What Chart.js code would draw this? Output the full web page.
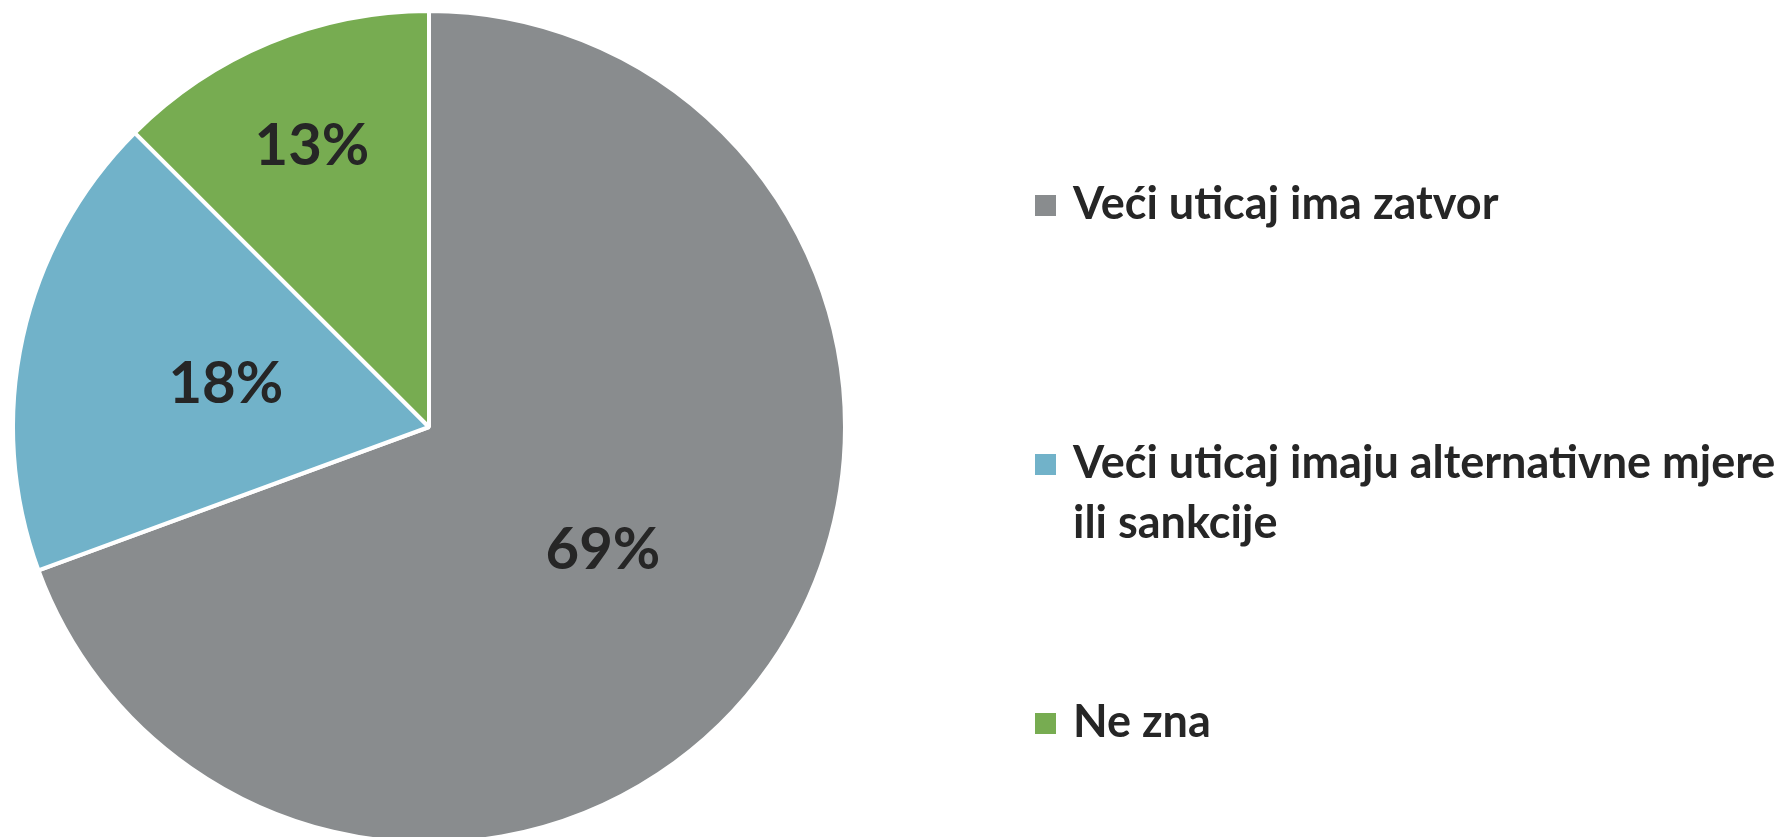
<!DOCTYPE html>
<html>
<head>
<meta charset="utf-8">
<script src="https://cdn.jsdelivr.net/npm/chart.js"></script>
<style>
  html, body { margin: 0; padding: 0; background: #fff; overflow: hidden; }
  #wrap { position: absolute; left: 0; top: 0; width: 1790px; height: 854px; }
</style>
</head>
<body>
<div id="wrap"><canvas id="pieChart" width="1790" height="854"></canvas></div>
<script>
// Data
const labels = ['Veći uticaj ima zatvor', 'Veći uticaj imaju alternativne mjere\nili sankcije', 'Ne zna'];
const shares = [69.4, 18.1, 12.5];
const colors = ['#898c8e', '#71b2c9', '#77ac51'];

const textColor = '#262626';
const fontFamily = 'Lato, "Open Sans", sans-serif';

// percent labels inside the slices
const sliceLabels = {
  id: 'sliceLabels',
  afterDatasetsDraw(chart, args, opts) {
    const ctx = chart.ctx;
    const meta = chart.getDatasetMeta(0);
    ctx.save();
    ctx.fillStyle = textColor;
    ctx.font = 'bold ' + opts.size + 'px ' + fontFamily;
    ctx.textAlign = 'center';
    ctx.textBaseline = 'alphabetic';
    meta.data.forEach((arc, i) => {
      const p = arc.getProps(['x', 'y', 'startAngle', 'endAngle', 'outerRadius'], true);
      const mid = (p.startAngle + p.endAngle) / 2;
      const r = p.outerRadius * opts.radius[i];
      const tx = p.x + Math.cos(mid) * r;
      const ty = p.y + Math.sin(mid) * r;
      const v = chart.data.datasets[0].data[i];
      ctx.fillText(Math.round(v) + '%', tx, ty + opts.size * 0.36);
    });
    ctx.restore();
  }
};

// legend on the right
const sideLegend = {
  id: 'sideLegend',
  afterDraw(chart, args, opts) {
    const ctx = chart.ctx;
    ctx.save();
    ctx.font = 'bold ' + opts.size + 'px ' + fontFamily;
    ctx.textBaseline = 'alphabetic';
    chart.data.labels.forEach((lab, i) => {
      const base = opts.baselines[i];
      ctx.fillStyle = chart.data.datasets[0].backgroundColor[i];
      ctx.fillRect(opts.boxX, base - 24, opts.box, opts.box);
      ctx.fillStyle = textColor;
      lab.split('\n').forEach((line, j) => {
        ctx.fillText(line, opts.textX, base + j * opts.lineHeight);
      });
    });
    ctx.restore();
  }
};

const ctx = document.getElementById('pieChart').getContext('2d');
const pieChart = new Chart(ctx, {
  type: 'pie',
  data: {
    labels: labels,
    datasets: [{
      data: shares,
      backgroundColor: colors,
      borderColor: '#ffffff',
      borderWidth: 4,
      hoverOffset: 0,
      radius: 416
    }]
  },
  options: {
    responsive: false,
    animation: false,
    layout: { padding: { left: 0, top: 0, bottom: 0, right: 1790 - 858 } },
    plugins: {
      legend: { display: false },
      tooltip: { enabled: false },
      sliceLabels: { size: 58, radius: [0.51, 0.5, 0.735] },
      sideLegend: {
        size: 45,
        boxX: 1035,
        box: 21,
        textX: 1073,
        lineHeight: 60,
        baselines: [219, 478, 737]
      }
    }
  },
  plugins: [sliceLabels, sideLegend]
});
</script>
</body>
</html>
